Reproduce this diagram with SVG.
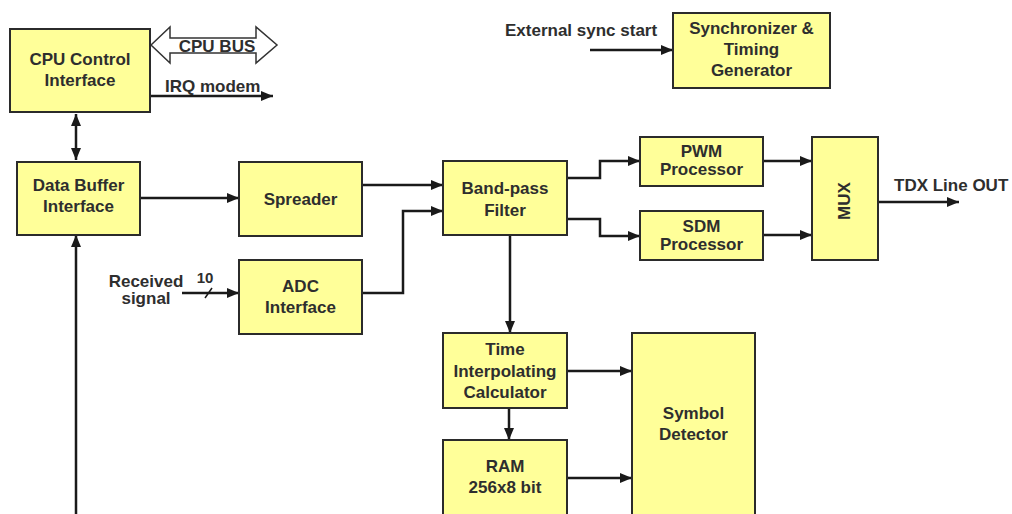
<svg xmlns="http://www.w3.org/2000/svg" width="1012" height="514" viewBox="0 0 1012 514">
<style>
.box{fill:#ffff99;stroke:#2b2b2b;stroke-width:2}
.t{font-family:"Liberation Sans",Arial,sans-serif;font-weight:bold;font-size:17px;fill:#2e2e2e;text-anchor:middle}
.l{font-family:"Liberation Sans",Arial,sans-serif;font-weight:bold;font-size:17px;fill:#2e2e2e}
.c{fill:none;stroke:#1a1a1a;stroke-width:2.5;marker-end:url(#ah)}
</style>
<defs>
<marker id="ah" markerUnits="userSpaceOnUse" markerWidth="13" markerHeight="11" refX="12" refY="5" orient="auto-start-reverse" viewBox="0 0 13 11">
<path d="M0,0 L12,5 L0,10 z" fill="#1a1a1a"/>
</marker>
</defs>
<rect width="1012" height="514" fill="#ffffff"/>
<g id="connectors">
<path class="c" d="M76,114 L76,160" marker-start="url(#ah)"/>
<path class="c" d="M140,198 L239,198"/>
<path class="c" d="M362,185 L443,185"/>
<path class="c" d="M362,293 L403,293 L403,211 L443,211"/>
<path class="c" d="M567,178 L600,178 L600,161 L640,161"/>
<path class="c" d="M567,219 L600,219 L600,236 L640,236"/>
<path class="c" d="M763,161 L812,161"/>
<path class="c" d="M763,235 L812,235"/>
<path class="c" d="M878,202 L959,202"/>
<path class="c" d="M510,235 L510,333"/>
<path class="c" d="M509,408 L509,440"/>
<path class="c" d="M567,371 L632,371"/>
<path class="c" d="M567,478 L632,478"/>
<path class="c" d="M590,50 L673,50"/>
<path class="c" d="M182,293 L239,293"/>
<path class="c" d="M150,96 L273,96"/>
<path class="c" d="M76,514 L76,235"/>
<path d="M205,298 L212,288" stroke="#1a1a1a" stroke-width="1.5" fill="none"/>
<polygon points="151,45 170,27 170,38 256,38 256,27 277,45 256,63 256,53 170,53 170,63" fill="#ffffff" stroke="#333333" stroke-width="1.5"/>
</g>
<g id="labels">
<text class="t" x="217" y="52">CPU BUS</text>
<text class="l" x="165" y="92">IRQ modem</text>
<text class="l" x="505" y="36">External sync start</text>
<text class="t" x="146" y="287">Received</text>
<text class="t" x="146" y="304">signal</text>
<text class="t" x="205" y="283" style="font-size:15px">10</text>
<text class="l" x="894" y="191">TDX Line OUT</text>
</g>
<g id="cpu"><rect class="box" x="10" y="29" width="140" height="83"/><text class="t" x="80" y="65">CPU Control</text><text class="t" x="80" y="86">Interface</text></g>
<g id="buffer"><rect class="box" x="17" y="162" width="123" height="73"/><text class="t" x="78.5" y="191">Data Buffer</text><text class="t" x="78.5" y="212">Interface</text></g>
<g id="spreader"><rect class="box" x="239" y="162" width="123" height="74"/><text class="t" x="300.5" y="205">Spreader</text></g>
<g id="adc"><rect class="box" x="239" y="260" width="123" height="74"/><text class="t" x="300.5" y="292">ADC</text><text class="t" x="300.5" y="313">Interface</text></g>
<g id="bpf"><rect class="box" x="443" y="161" width="124" height="74"/><text class="t" x="505" y="194">Band-pass</text><text class="t" x="505" y="216">Filter</text></g>
<g id="pwm"><rect class="box" x="640" y="137" width="123" height="49"/><text class="t" x="701.5" y="157">PWM</text><text class="t" x="701.5" y="175">Processor</text></g>
<g id="sdm"><rect class="box" x="640" y="211" width="123" height="49"/><text class="t" x="701.5" y="232">SDM</text><text class="t" x="701.5" y="250">Processor</text></g>
<g id="mux"><rect class="box" x="812" y="137" width="66" height="123"/><text class="t" transform="translate(850,201) rotate(-90)" x="0" y="0">MUX</text></g>
<g id="sync"><rect class="box" x="673" y="13" width="157" height="75"/><text class="t" x="751.5" y="34">Synchronizer &amp;</text><text class="t" x="751.5" y="55">Timing</text><text class="t" x="751.5" y="76">Generator</text></g>
<g id="tic"><rect class="box" x="443" y="333" width="124" height="75"/><text class="t" x="505" y="355">Time</text><text class="t" x="505" y="377">Interpolating</text><text class="t" x="505" y="398">Calculator</text></g>
<g id="ram"><rect class="box" x="443" y="440" width="124" height="84"/><text class="t" x="505" y="472">RAM</text><text class="t" x="505" y="493">256x8 bit</text></g>
<g id="symbol"><rect class="box" x="632" y="333" width="123" height="191"/><text class="t" x="693.5" y="419">Symbol</text><text class="t" x="693.5" y="440">Detector</text></g>
</svg>
